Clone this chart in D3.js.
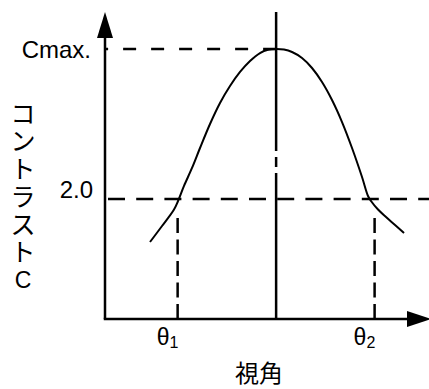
<!DOCTYPE html>
<html><head><meta charset="utf-8">
<script src="https://cdn.jsdelivr.net/npm/d3@7"></script>
<style>html,body{margin:0;padding:0;background:#fff;} svg{display:block}</style>
</head><body>
<svg id="c" width="429" height="389"></svg>
<script>
// viewing angle (deg) and contrast samples
const angles   = [-51.22, -46.34, -41.47, -39.84, -37.41, -34.16, -30.91, -26.85, -22.79, -18.73, -14.66, -10.60, -6.54, -3.29, 0,
                  3.21, 6.46, 10.52, 14.58, 18.64, 22.70, 26.77, 30.83, 34.89, 37.33, 38.54, 41.39, 44.64, 48.30, 51.95];
const contrast = [1.283, 1.55, 1.825, 1.967, 2.217, 2.517, 2.85, 3.25, 3.60, 3.883, 4.117, 4.30, 4.433, 4.487, 4.50,
                  4.49, 4.45, 4.35, 4.183, 3.95, 3.65, 3.283, 2.85, 2.367, 2.05, 1.967, 1.825, 1.70, 1.567, 1.433];
const levelValues = [4.5, 2.0];
const levelLabels = ["Cmax.", "2.0"];
const thetaValues = [-40, 40];
const thetaSubs = ["1", "2"];
const yTitleChars = ["コ","ン","ト","ラ","ス","ト","C"];
const xTitle = "視角";

const FONT = "'Liberation Sans', Arial, 'Noto Sans CJK JP', sans-serif";
const svg = d3.select("#c");
const x = d3.scaleLinear().domain([-69.5, 62.5]).range([105, 430]);
const y = d3.scaleLinear().domain([0, 4.5]).range([319, 49]);
const xMin = -69.5, yTop = y.invert(12), xEnd = x.invert(431);

const ink = "#000";
// axes
svg.append("line").attr("x1", x(xMin)).attr("x2", x(xMin)).attr("y1", y(0)).attr("y2", y(yTop) + 24)
  .attr("stroke", ink).attr("stroke-width", 2.5);
svg.append("line").attr("x1", x(xMin) - 1.25).attr("x2", x(xEnd) - 22).attr("y1", y(0)).attr("y2", y(0))
  .attr("stroke", ink).attr("stroke-width", 2.5);
// arrow heads
svg.append("path").attr("d", d3.line()([[x(xMin), y(yTop)], [x(xMin) - 8, y(yTop) + 26], [x(xMin) + 8, y(yTop) + 26]]) + "Z").attr("fill", ink);
svg.append("path").attr("d", d3.line()([[x(xEnd), y(0)], [x(xEnd) - 24, y(0) - 8], [x(xEnd) - 24, y(0) + 8]]) + "Z").attr("fill", ink);

// centre line
svg.append("line").attr("x1", x(0)).attr("x2", x(0)).attr("y1", y(yTop)).attr("y2", y(0))
  .attr("stroke", ink).attr("stroke-width", 2.5).attr("stroke-dasharray", "139,6,10,6,1000");

// Cmax dashed line (from centre to axis)
svg.append("line").attr("x1", x(0)).attr("x2", x(xMin)).attr("y1", y(levelValues[0])).attr("y2", y(levelValues[0]))
  .attr("stroke", ink).attr("stroke-width", 2.5).attr("stroke-dasharray", "13,15");
// 2.0 dashed line
svg.append("line").attr("x1", x(xMin) + 3).attr("x2", 429).attr("y1", y(levelValues[1])).attr("y2", y(levelValues[1]))
  .attr("stroke", ink).attr("stroke-width", 2.5).attr("stroke-dasharray", "17,11.2");

// theta dashed verticals
svg.selectAll(".tv").data(thetaValues).enter().append("line")
  .attr("x1", d => x(d)).attr("x2", d => x(d)).attr("y1", y(0)).attr("y2", y(1.7))
  .attr("stroke", ink).attr("stroke-width", 2.5).attr("stroke-dasharray", "15,6.5");

// curve
const pts = angles.map((a, i) => [a, contrast[i]]);
svg.append("path").attr("d", d3.line().x(d => x(d[0])).y(d => y(d[1])).curve(d3.curveCatmullRom.alpha(0.5))(pts))
  .attr("fill", "none").attr("stroke", ink).attr("stroke-width", 2);

// level labels
svg.selectAll(".ll").data(levelValues).enter().append("text")
  .attr("x", (d, i) => i === 0 ? 91 : 93).attr("y", (d, i) => y(d) + (i === 0 ? 9 : -1))
  .attr("text-anchor", "end").attr("font-family", FONT).attr("font-size", 24).attr("fill", ink)
  .text((d, i) => levelLabels[i]);

// theta labels
const tl = svg.selectAll(".tl").data(thetaValues).enter().append("text")
  .attr("x", d => x(d) - 21).attr("y", 345).attr("font-family", FONT).attr("fill", ink);
tl.append("tspan").attr("font-size", 23).text("θ");
tl.append("tspan").attr("font-size", 16).attr("dy", 3).text((d, i) => thetaSubs[i]);

// x title
svg.append("text").attr("x", 259).attr("y", 382).attr("text-anchor", "middle")
  .attr("font-family", "'Noto Sans CJK JP', sans-serif").attr("font-size", 24).attr("fill", ink).text(xTitle);

// y title (vertical)
svg.selectAll(".yt").data(yTitleChars).enter().append("text")
  .attr("x", 23).attr("y", (d, i) => 113.5 + i * 27.75)
  .attr("text-anchor", "middle").attr("dominant-baseline", "central")
  .attr("font-family", FONT).attr("font-size", (d) => d === "C" ? 23 : 25).attr("fill", ink)
  .text(d => d);
</script>
</body></html>
